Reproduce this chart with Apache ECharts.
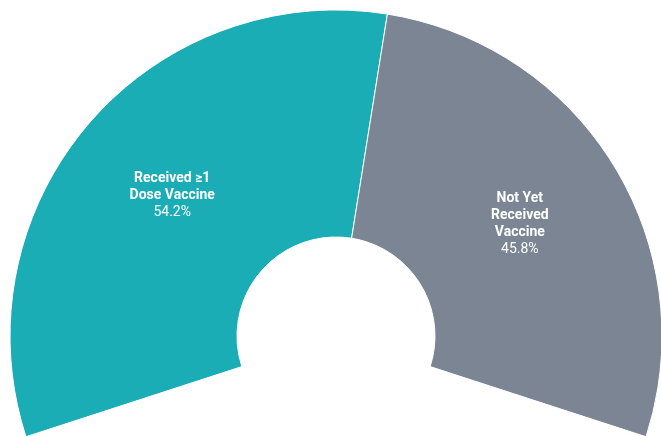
<!DOCTYPE html>
<html>
<head>
<meta charset="utf-8">
<style>
  html, body { margin: 0; padding: 0; background: #ffffff; }
  #chart { width: 661px; height: 436px; }
</style>
<script src="https://cdn.jsdelivr.net/npm/echarts@6/dist/echarts.min.js"></script>
</head>
<body>
<div id="chart"></div>
<script>
// Vaccination status shares (percent of population)
const categories = ['Received ≥1\nDose Vaccine', 'Not Yet\nReceived\nVaccine'];
const shares = [54.2, 45.8];
const colors = ['#1BADB5', '#7B8593'];

const chart = echarts.init(document.getElementById('chart'), null, { renderer: 'canvas' });

chart.setOption({
  animation: false,
  backgroundColor: '#ffffff',
  series: [{
    type: 'pie',
    center: [336, 336],
    radius: [99, 326],
    startAngle: 198,
    endAngle: -18,
    clockwise: true,
    avoidLabelOverlap: false,
    itemStyle: { borderColor: '#ffffff', borderWidth: 1 },
    label: {
      show: true,
      position: 'inside',
      formatter: function (p) {
        const lines = p.name.split('\n').map(function (l) { return '{n|' + l + '}'; });
        lines.push('{p|' + p.value.toFixed(1) + '%}');
        return lines.join('\n');
      },
      rich: {
        n: { fontFamily: 'Roboto', fontSize: 14, fontWeight: 'bold', color: '#ffffff', lineHeight: 17 },
        p: { fontFamily: 'Roboto', fontSize: 14, color: '#ffffff', lineHeight: 17 }
      }
    },
    labelLine: { show: false },
    emphasis: { disabled: true },
    data: categories.map(function (c, i) {
      return { name: c, value: shares[i], itemStyle: { color: colors[i] } };
    })
  }]
});
</script>
</body>
</html>
